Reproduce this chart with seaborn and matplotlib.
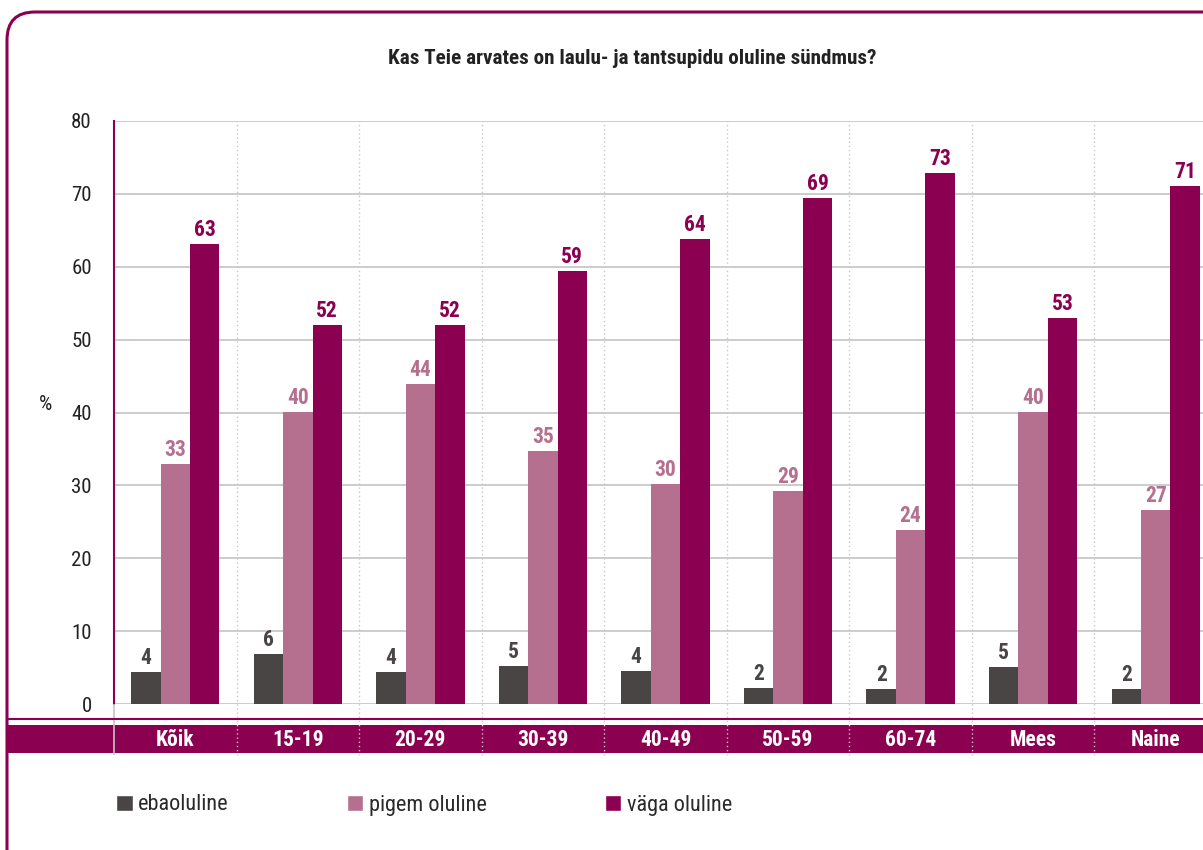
import matplotlib
matplotlib.use('Agg')

import pandas as pd
import matplotlib.pyplot as plt
import seaborn as sns
from matplotlib import font_manager
from matplotlib.patches import FancyBboxPatch, Rectangle
from matplotlib.transforms import blended_transform_factory

# --- andmed ---
categories = ["Kõik", "15-19", "20-29", "30-39", "40-49", "50-59", "60-74", "Mees", "Naine"]
series_names = ["ebaoluline", "pigem oluline", "väga oluline"]

ebaoluline = [4.4, 6.9, 4.4, 5.2, 4.5, 2.2, 2.1, 5.1, 2.1]
pigem_oluline = [32.9, 40.1, 43.9, 34.7, 30.2, 29.2, 23.9, 40.1, 26.6]
vaga_oluline = [63.1, 52.0, 52.0, 59.4, 63.8, 69.4, 72.9, 53.0, 71.1]

ebaoluline_labels = [4, 6, 4, 5, 4, 2, 2, 5, 2]
pigem_labels = [33, 40, 44, 35, 30, 29, 24, 40, 27]
vaga_labels = [63, 52, 52, 59, 64, 69, 73, 53, 71]

y_ticks = [0, 10, 20, 30, 40, 50, 60, 70, 80]

title = "Kas Teie arvates on laulu- ja tantsupidu oluline sündmus?"

# värvid
MAGENTA = "#8b0050"
colors = ["#4a4545", "#b5708f", MAGENTA]

sns.set_style("white")
installed = {f.name for f in font_manager.fontManager.ttflist}
families = [f for f in ["Roboto Condensed", "DejaVu Sans"] if f in installed]
plt.rcParams['font.family'] = families

df = pd.DataFrame({
    "kategooria": categories * 3,
    "vastus": [s for s in series_names for _ in categories],
    "protsent": ebaoluline + pigem_oluline + vaga_oluline,
})

fig = plt.figure(figsize=(12.03, 8.5), dpi=100)
ax = fig.add_axes([114 / 1203, 146 / 850, 1103 / 1203, 583 / 850])
ax.set_zorder(2)
ax.patch.set_alpha(0)

sns.barplot(data=df, x="kategooria", y="protsent", hue="vastus",
            order=categories, hue_order=series_names, palette=colors,
            width=0.72, gap=0, saturation=1, linewidth=0, ax=ax, legend=False)

ax.set_xlim(-0.5, len(categories) - 0.5)
ax.set_ylim(0, 80)
ax.set_yticks(y_ticks)
ax.set_yticklabels([str(t) for t in y_ticks], fontsize=15, color="#222222")
ax.tick_params(axis="y", length=0, pad=16)
ax.set_xticks([])
ax.set_xlabel("")
ax.set_ylabel("")
for s in ["top", "right", "bottom"]:
    ax.spines[s].set_visible(False)
ax.spines["left"].set_color(MAGENTA)
ax.spines["left"].set_linewidth(1.5)

# horisontaalsed abijooned
for t in y_ticks:
    ax.axhline(t, color="#c4c4c4", lw=1.2, zorder=0)

# vertikaalsed punktiirjooned kategooriate vahel
ax.vlines([i + 0.5 for i in range(len(categories))], -7.0, 80,
          colors="#c8c8c8", linestyles=(0, (1, 2)), lw=1, clip_on=False, zorder=3)
ax.vlines([-0.5], -7.0, 0, colors="#c4c4c4", lw=1.2, clip_on=False, zorder=3)

# väärtuste sildid
all_labels = [ebaoluline_labels, pigem_labels, vaga_labels]
label_colors = ["#4a4545", "#b5708f", MAGENTA]
for container, labs, c in zip(ax.containers, all_labels, label_colors):
    ax.bar_label(container, labels=[str(v) for v in labs], padding=2,
                 fontsize=15.5, fontweight="bold", color=c)

# kategooriate riba
fig.patches.append(Rectangle((8 / 1203, 97 / 850), 1.0, 28 / 850,
                             transform=fig.transFigure, facecolor=MAGENTA,
                             edgecolor="none", zorder=1))
fig.lines.append(plt.Line2D([8 / 1203, 1.0], [131 / 850, 131 / 850],
                            transform=fig.transFigure, color=MAGENTA, lw=1.5))
band_tr = blended_transform_factory(ax.transData, fig.transFigure)
for i, cat in enumerate(categories):
    ax.text(i, 110 / 850, cat, transform=band_tr, ha="center", va="center",
            color="white", fontsize=15.5, fontweight="bold", zorder=5)

# raam
fig.patches.append(FancyBboxPatch((0.07, -1.0), 13.0, 8.38 + 1.0,
                                  boxstyle="round,pad=0,rounding_size=0.28",
                                  transform=fig.dpi_scale_trans, facecolor="none",
                                  edgecolor=MAGENTA, lw=2.2))

fig.text(632 / 1203, 1 - 58 / 850, title, ha="center", va="center",
         fontsize=15.2, fontweight="bold", color="#222222")
fig.text(45 / 1203, 1 - 405 / 850, "%", ha="center", va="center",
         fontsize=15, color="#222222")

# legend
handles = [Rectangle((0, 0), 1, 1, facecolor=c) for c in colors]
fig.legend(handles, series_names, loc="center left",
           bbox_to_anchor=(116 / 1203, 1 - 805 / 850), ncol=3, frameon=False,
           borderpad=0, borderaxespad=0,
           fontsize=16, handlelength=0.75, handleheight=0.75, handletextpad=0.25,
           columnspacing=5.3, labelcolor="#2a2a2a")

fig.savefig("out.png", dpi=100)
